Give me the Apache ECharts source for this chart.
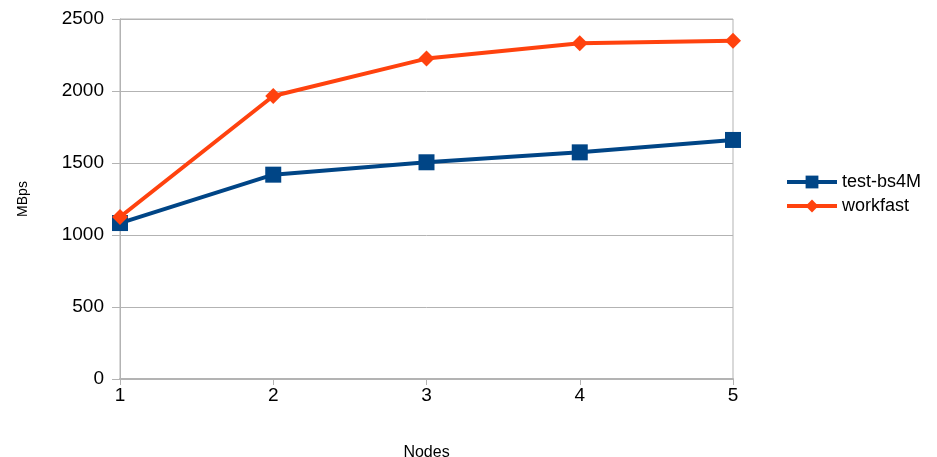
<!DOCTYPE html>
<html>
<head>
<meta charset="utf-8">
<script src="https://cdn.jsdelivr.net/npm/echarts@6/dist/echarts.min.js"></script>
<style>
  html, body { margin: 0; padding: 0; background: #fff; }
  #chart { width: 937px; height: 457px; }
</style>
</head>
<body>
<div id="chart"></div>
<script>
// Throughput (MBps) by number of nodes
const nodes = ['1', '2', '3', '4', '5'];
const testBs4M = [1083, 1419, 1505, 1574, 1660];
const workfast = [1125, 1965, 2225, 2331, 2349];
const yTicks = { min: 0, max: 2500, interval: 500 };

const gridColor = '#b3b3b3';
const font = 'Liberation Sans, Arial, sans-serif';

const chart = echarts.init(document.getElementById('chart'), null, { renderer: 'canvas' });
chart.setOption({
  backgroundColor: '#ffffff',
  animation: false,
  grid: {
    left: 120, right: 204, top: 19, bottom: 78,
    outerBoundsMode: 'none',
    containLabel: false,
    show: true, borderColor: gridColor, borderWidth: 1
  },
  legend: {
    orient: 'vertical',
    left: 785, top: 173,
    padding: 0,
    itemWidth: 50, itemHeight: 16, itemGap: 6,
    lineStyle: { width: 4 },
    textStyle: { fontFamily: font, fontSize: 18, color: '#000' },
    data: ['test-bs4M', 'workfast']
  },
  xAxis: {
    type: 'category',
    data: nodes,
    boundaryGap: false,
    name: 'Nodes',
    nameLocation: 'middle',
    nameGap: 66,
    nameTextStyle: { fontFamily: font, fontSize: 16, color: '#000' },
    axisLine: { lineStyle: { color: gridColor, width: 2 } },
    axisTick: { show: true, length: 6, lineStyle: { color: gridColor } },
    axisLabel: { fontFamily: font, fontSize: 19, color: '#000', margin: 7 },
    splitLine: { show: false }
  },
  yAxis: {
    type: 'value',
    min: yTicks.min, max: yTicks.max, interval: yTicks.interval,
    name: 'MBps',
    nameLocation: 'middle',
    nameGap: 90,
    nameRotate: 90,
    nameTextStyle: { fontFamily: font, fontSize: 14, color: '#000' },
    axisLine: { show: true, lineStyle: { color: gridColor, width: 1 } },
    axisTick: { show: true, length: 8, lineStyle: { color: gridColor } },
    axisLabel: { fontFamily: font, fontSize: 19, color: '#000', margin: 16, formatter: v => String(v) },
    splitLine: { show: true, lineStyle: { color: gridColor, width: 1 } }
  },
  series: [
    {
      name: 'test-bs4M',
      type: 'line',
      data: testBs4M,
      symbol: 'rect',
      symbolSize: 16,
      lineStyle: { color: '#004586', width: 4 },
      itemStyle: { color: '#004586' },
      z: 2
    },
    {
      name: 'workfast',
      type: 'line',
      data: workfast,
      symbol: 'diamond',
      symbolSize: 16,
      lineStyle: { color: '#ff420e', width: 4 },
      itemStyle: { color: '#ff420e' },
      z: 3
    }
  ]
});
</script>
</body>
</html>
